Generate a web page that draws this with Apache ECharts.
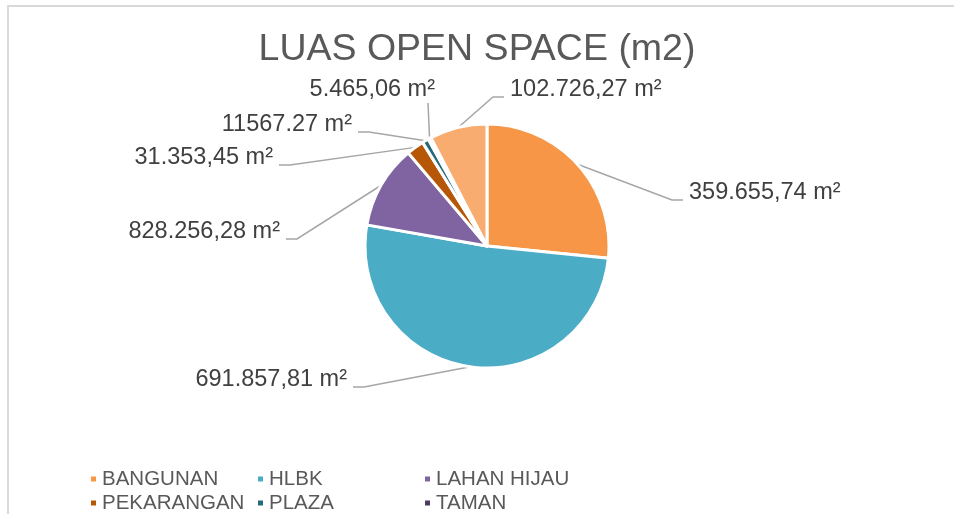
<!DOCTYPE html>
<html>
<head>
<meta charset="utf-8">
<script src="https://cdn.jsdelivr.net/npm/echarts@6/dist/echarts.min.js"></script>
<style>
  html, body { margin: 0; padding: 0; background: #fff; }
  #chart { width: 954px; height: 514px; }
</style>
</head>
<body>
<div id="chart"></div>
<script>
// data
const categories = ['BANGUNAN', 'HLBK', 'LAHAN HIJAU', 'PEKARANGAN', 'PLAZA', 'TAMAN', 'LAINNYA'];
const areaValues = [359655.74, 691857.81, 149500, 31353.45, 11567.27, 5465.06, 102726.27];
const labelTexts = ['359.655,74 m²', '691.857,81 m²', '828.256,28 m²', '31.353,45 m²', '11567.27 m²', '5.465,06 m²', '102.726,27 m²'];
const sliceColors = ['#F79646', '#4BACC6', '#8064A2', '#B65708', '#276A7C', '#4D3B62', '#F8AC6F'];

// label anchors (text edge x, text middle y, align)
const labelAnchors = [
  [689, 193, 'left'],
  [347, 380, 'right'],
  [280, 232, 'right'],
  [273, 158, 'right'],
  [352, 125, 'right'],
  [435, 90, 'right'],
  [510, 90, 'left']
];

const FONT = "'Liberation Sans', Arial, sans-serif";

const chart = echarts.init(document.getElementById('chart'));

const option = {
  backgroundColor: '#fff',
  animation: false,
  title: {
    text: 'LUAS OPEN SPACE (m2)',
    left: 'center',
    top: 32,
    padding: 0,
    textStyle: { fontFamily: FONT, fontSize: 37.5, fontWeight: 'normal', color: '#595959', lineHeight: 36 }
  },
  legend: {
    data: categories,
    left: 89,
    top: 468,
    width: 500,
    padding: 0,
    itemWidth: 7,
    itemHeight: 7,
    itemGap: 2,
    icon: 'rect',
    textStyle: { fontFamily: FONT, fontSize: 20.5, color: '#595959', lineHeight: 22, width: 152, overflow: 'none' }
  },
  graphic: [{
    type: 'rect',
    shape: { x: 8, y: 6, width: 980, height: 540 },
    style: { fill: 'none', stroke: '#d9d9d9', lineWidth: 2 },
    silent: true
  }],
  series: [{
    type: 'pie',
    center: [487, 246],
    radius: 122,
    startAngle: 90,
    clockwise: true,
    avoidLabelOverlap: false,
    itemStyle: { borderColor: '#fff', borderWidth: 3 },
    label: {
      show: true,
      position: 'outer',
      fontFamily: FONT,
      fontSize: 23.5,
      color: '#404040',
      formatter: (p) => labelTexts[p.dataIndex]
    },
    labelLine: { show: true, lineStyle: { color: '#a6a6a6', width: 1.5 } },
    labelLayout: function (params) {
      const i = params.dataIndex;
      const a = labelAnchors[i];
      const start = params.labelLinePoints ? params.labelLinePoints[0] : null;
      let pts;
      if (i === 5) {
        pts = [start, [a[0] - 7, a[1] + 13]];
      } else if (a[2] === 'left') {
        pts = [start, [a[0] - 17, a[1] + 7], [a[0] - 6, a[1] + 7]];
      } else {
        pts = [start, [a[0] + 17, a[1] + 7], [a[0] + 6, a[1] + 7]];
      }
      return {
        x: a[0],
        y: a[1],
        align: a[2],
        verticalAlign: 'middle',
        labelLinePoints: start ? pts : undefined
      };
    },
    data: categories.map((name, i) => ({
      name: name,
      value: areaValues[i],
      itemStyle: { color: sliceColors[i] }
    }))
  }]
};

chart.setOption(option);
</script>
</body>
</html>
